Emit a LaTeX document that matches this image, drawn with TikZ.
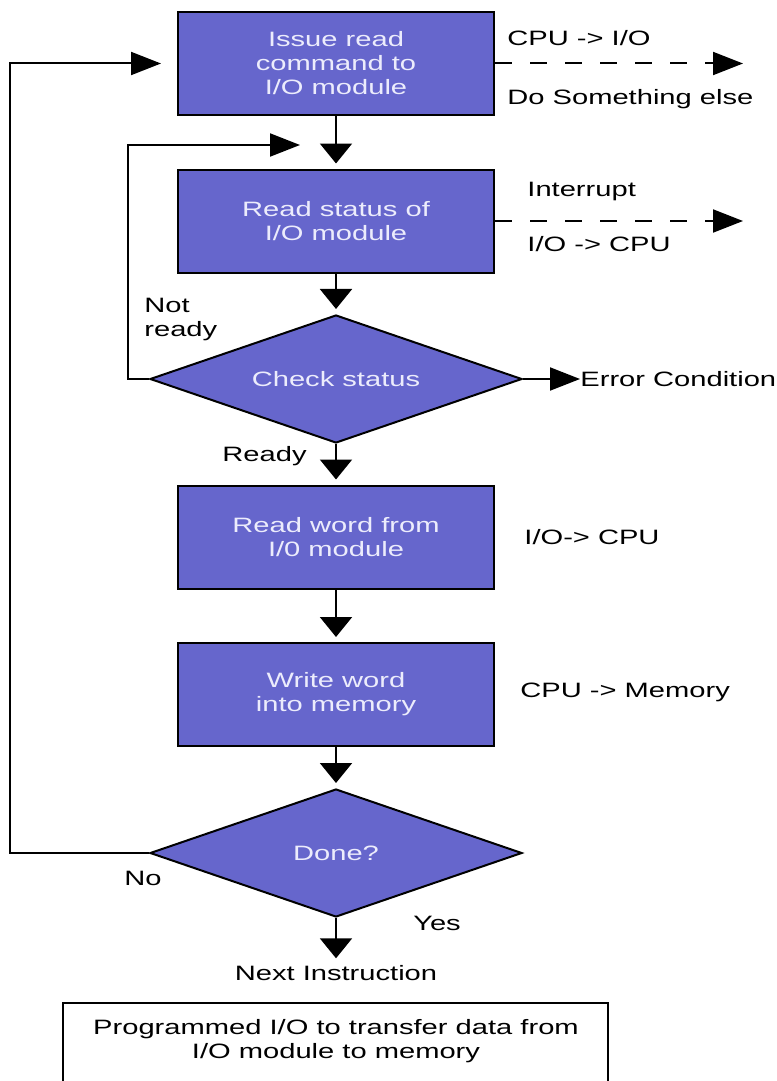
\documentclass[tikz,border=0pt]{standalone}
\usepackage{fontspec}
\setmainfont{Liberation Sans}[FakeStretch=1.40]
\usetikzlibrary{shapes.geometric,arrows.meta}
\definecolor{boxblue}{RGB}{102,102,204}
\definecolor{boxtext}{RGB}{236,236,252}
\tikzset{
  every node/.style={font=\fontsize{10.4pt}{12pt}\selectfont},
  stepbox/.style={draw, line width=1pt, fill=boxblue, text=boxtext, align=center,
    minimum width=158pt, minimum height=51.5pt, inner sep=0pt},
  decision/.style={diamond, draw, line width=1pt, fill=boxblue, text=boxtext,
    minimum width=186pt, minimum height=64pt, shape aspect=2.9, inner sep=0pt},
  lbl/.style={inner sep=0pt, align=left},
  down/.style={-{Triangle[length=10pt,width=16pt]}, line width=1pt, shorten >=2.5pt},
  side/.style={-{Triangle[length=15pt,width=11.5pt]}, line width=1pt},
  outflow/.style={side, dash pattern=on 8.5pt off 9pt},
}
\begin{document}
\begin{tikzpicture}[x=0.5pt,y=-0.5pt]
\useasboundingbox (0,0) rectangle (776,1081);

\node[stepbox] (issue) at (336,63.5) {Issue read\\command to\\I/O module};
\node[stepbox] (status) at (336,221) {Read status of\\I/O module};
\node[decision] (check) at (336,379) {Check status};
\node[stepbox] (readword) at (336,537) {Read word from\\I/0 module};
\node[stepbox] (writeword) at (336,694.5) {Write word\\into memory};
\node[decision] (done) at (336,853) {Done?};
\node (next) at (336,973) {Next Instruction};

\node[lbl, anchor=west] (cpuio) at (507,38) {CPU -> I/O};
\node[lbl, anchor=west] (else) at (507,99) {Do Something else};
\node[lbl, anchor=west] (intr) at (527,192) {Interrupt};
\node[lbl, anchor=west] (iocpu) at (527,244) {I/O -> CPU};
\node[lbl, anchor=west] (notready) at (144,319.5) {Not\\ready};
\node[lbl, anchor=west] (error) at (580,379) {Error Condition};
\node[lbl, anchor=east] (ready) at (307,456) {Ready};
\node[lbl, anchor=west] (iocpu2) at (524,537) {I/O-> CPU};
\node[lbl, anchor=west] (cpumem) at (520,692) {CPU -> Memory};
\node[lbl] (no) at (143,878) {No};
\node[lbl] (yes) at (437,923) {Yes};

\coordinate (cpuout) at (743,63.5);
\coordinate (intout) at (743,221);
\coordinate (nrend) at (300,145);

\draw[down] (issue) -- (status);
\draw[down] (status) -- (check);
\draw[down] (check) -- (readword);
\draw[down] (readword) -- (writeword);
\draw[down] (writeword) -- (done);
\draw[down, shorten >=0pt] (done) -- (next);

\draw[outflow] (issue.east) -- (cpuout);
\draw[outflow] (status.east) -- (intout);
\draw[side] (check.east) -- (error.west);
\draw[side] (check.west) -- ++(-21,0) |- (nrend);
\draw[side, shorten >=8pt] (done.west) -- ++(-139,0) |- (issue.west);

% caption box, cut by the page edge
\node[lbl, align=center] (caption) at (336,1041) {Programmed I/O to transfer data from\\I/O module to memory};
\draw[line width=1pt] (63,1003) rectangle (608,1110);
\end{tikzpicture}
\end{document}
